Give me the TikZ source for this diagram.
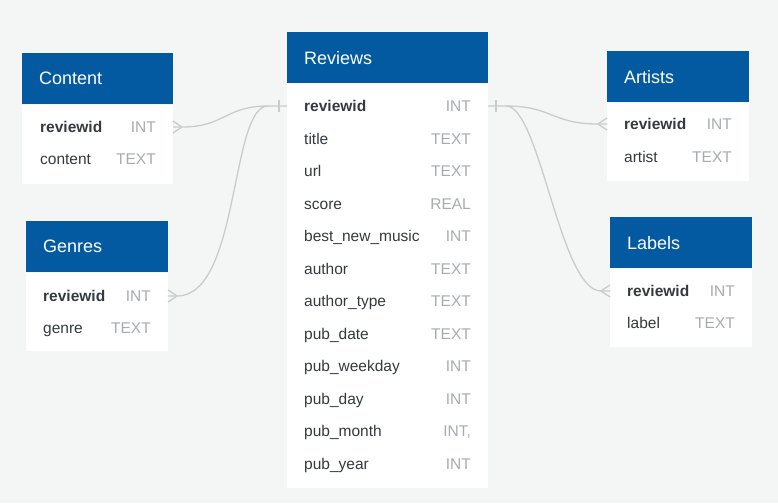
\documentclass[tikz,border=0pt]{standalone}
\usepackage{fontspec}
\setmainfont{Liberation Sans}
\usetikzlibrary{positioning}

\begin{document}
\begin{tikzpicture}[x=1pt,y=-1pt,
    head/.style={fill=hblue, text=white, anchor=north west, inner xsep=17pt, inner ysep=0pt,
        minimum height=51pt, align=left, font=\fontsize{18}{20}\selectfont},
    body/.style={fill=white, anchor=north west, inner sep=0pt},
    key/.style={anchor=base west, inner sep=0pt, text=ink, font=\fontsize{15.5}{18}\selectfont\bfseries},
    field/.style={anchor=base west, inner sep=0pt, text=ink, font=\fontsize{15.5}{18}\selectfont},
    kind/.style={anchor=base east, inner sep=0pt, text=faded, font=\fontsize{15.5}{18}\selectfont},
    link/.style={draw=wire, line width=1.3pt}]
    \definecolor{hblue}{RGB}{4,90,160}
    \definecolor{paper}{RGB}{244,246,246}
    \definecolor{wire}{RGB}{202,203,204}
    \definecolor{ink}{RGB}{52,58,64}
    \definecolor{faded}{RGB}{168,172,176}

    \fill[paper] (0,0) rectangle (778,503);

    % Content
    \node[head, text width=117pt] (con-h) at (22,53) {Content};
    \node[body, minimum width=151pt, minimum height=79pt] (con-b) at (con-h.south west) {};
    \node[key] (con-rid) at (40,132.5) {reviewid};
    \node[kind] (con-ridt) at (156,132.5) {INT};
    \node[field] (con-txt) at (40,164.5) {content};
    \node[kind] (con-txtt) at (156,164.5) {TEXT};

    % Genres
    \node[head, text width=108pt] (gen-h) at (26,221) {Genres};
    \node[body, minimum width=142pt, minimum height=78pt] (gen-b) at (gen-h.south west) {};
    \node[key] (gen-rid) at (43,301.5) {reviewid};
    \node[kind] (gen-ridt) at (151,301.5) {INT};
    \node[field] (gen-g) at (43,333.5) {genre};
    \node[kind] (gen-gt) at (151,333.5) {TEXT};

    % Reviews
    \node[head, text width=167pt] (rev-h) at (287,32) {Reviews};
    \node[body, minimum width=201pt, minimum height=404pt] (rev-b) at (rev-h.south west) {};
    \node[key] (rev-rid) at (304,111.5) {reviewid};
    \node[kind] (rev-ridt) at (471,111.5) {INT};
    \foreach \n/\t [count=\i] in {title/TEXT, url/TEXT, score/REAL, best\_new\_music/INT,
        author/TEXT, author\_type/TEXT, pub\_date/TEXT, pub\_weekday/INT, pub\_day/INT,
        pub\_month/{INT,}, pub\_year/INT}
    {
        \node[field] (rev-\i) at (304,111.5+32.5*\i) {\n};
        \node[kind] (rev-\i t) at (471,111.5+32.5*\i) {\t};
    }

    % Artists
    \node[head, text width=108pt] (art-h) at (607,51) {Artists};
    \node[body, minimum width=142pt, minimum height=78pt] (art-b) at (art-h.south west) {};
    \node[key] (art-rid) at (624,129.5) {reviewid};
    \node[kind] (art-ridt) at (732,129.5) {INT};
    \node[field] (art-a) at (624,162.5) {artist};
    \node[kind] (art-at) at (732,162.5) {TEXT};

    % Labels
    \node[head, text width=108pt] (lab-h) at (610,217) {Labels};
    \node[body, minimum width=142pt, minimum height=78pt] (lab-b) at (lab-h.south west) {};
    \node[key] (lab-rid) at (627,296.5) {reviewid};
    \node[kind] (lab-ridt) at (735,296.5) {INT};
    \node[field] (lab-l) at (627,328.5) {label};
    \node[kind] (lab-lt) at (735,328.5) {TEXT};

    % relations
    \coordinate (rev-w) at (287,106);
    \coordinate (rev-e) at (488,106);
    \coordinate (con-e) at (173,127);
    \coordinate (con-tip) at (182,127);
    \coordinate (gen-e) at (168,296);
    \coordinate (gen-tip) at (177,296);
    \coordinate (art-w) at (607,124);
    \coordinate (art-tip) at (598,124);
    \coordinate (lab-w) at (610,291);
    \coordinate (lab-tip) at (601,291);

    \draw[link] (rev-w) -- (268,106) .. controls (225,106) and (225,127) .. (con-tip) -- (con-e);
    \draw[link] (268,106) .. controls (230,106) and (240,296) .. (gen-tip) -- (gen-e);
    \draw[link] (rev-e) -- (506,106) .. controls (552,106) and (552,124) .. (art-tip) -- (art-w);
    \draw[link] (506,106) .. controls (540,106) and (560,291) .. (lab-tip) -- (lab-w);

    % one side
    \draw[link] (279,100) -- (279,112);
    \draw[link] (496,100) -- (496,112);

    % many side
    \draw[link] (con-tip) -- (173,121) (con-tip) -- (173,133);
    \draw[link] (gen-tip) -- (168,290) (gen-tip) -- (168,302);
    \draw[link] (art-tip) -- (607,118) (art-tip) -- (607,130);
    \draw[link] (lab-tip) -- (610,285) (lab-tip) -- (610,297);
\end{tikzpicture}
\end{document}
